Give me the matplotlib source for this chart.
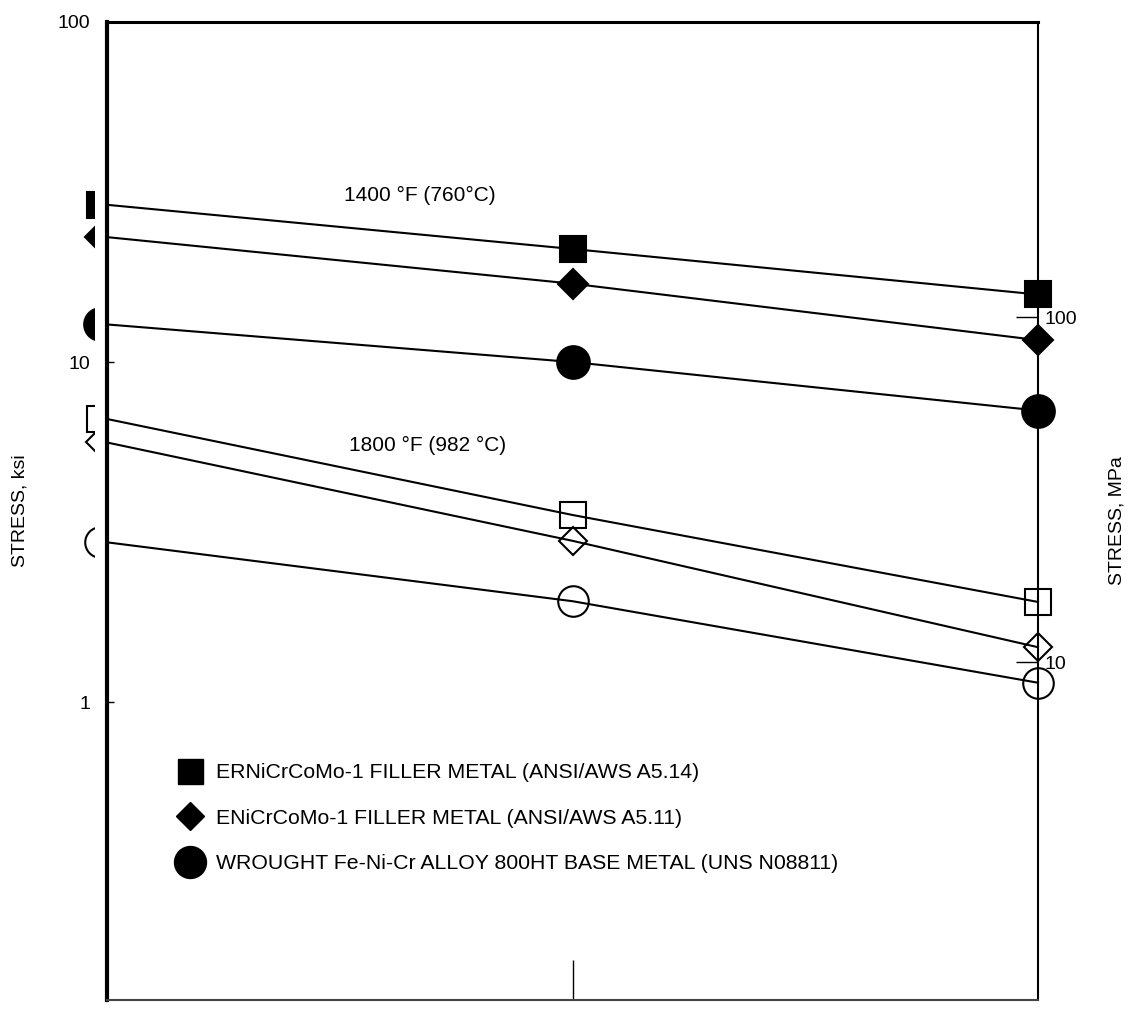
import matplotlib.pyplot as plt
from matplotlib.lines import Line2D
from matplotlib.patches import Rectangle
from matplotlib.ticker import NullLocator
from matplotlib.transforms import offset_copy

plt.rcParams['font.family'] = ['Liberation Sans', 'DejaVu Sans']

# rupture time, decades from the left edge (the original has no x labels)
log_time = [0, 1, 2]

# stress, ksi
er_1400 = [29.0, 21.5, 15.8]
e_1400 = [23.3, 17.0, 11.6]
base_1400 = [12.9, 10.0, 7.2]
er_1800 = [6.8, 3.55, 1.97]
e_1800 = [5.8, 2.98, 1.45]
base_1800 = [2.95, 1.98, 1.14]

legend_labels = [
    "ERNiCrCoMo-1 FILLER METAL (ANSI/AWS A5.14)",
    "ENiCrCoMo-1 FILLER METAL (ANSI/AWS A5.11)",
    "WROUGHT Fe-Ni-Cr ALLOY 800HT BASE METAL (UNS N08811)",
]

fig, ax = plt.subplots(figsize=(11.33, 10.09), dpi=100)
fig.subplots_adjust(left=107/1133, right=1038/1133, top=1-22/1009, bottom=1-1000/1009)

# marker, size, face colour
series = [
    (er_1400, 's', 19, 'black'),
    (e_1400, 'D', 15.5, 'black'),
    (base_1400, 'o', 23.5, 'black'),
    (er_1800, 's', 18.5, 'none'),
    (e_1800, 'D', 14.5, 'none'),
    (base_1800, 'o', 22, 'none'),
]

# the scanned original only shows the left half of the markers at the left edge
shift = offset_copy(ax.transData, fig=fig, x=-7, y=0, units='dots')
clip_rect = Rectangle((0, 0), 94/1133, 1, transform=fig.transFigure)

for vals, mk, ms, face in series:
    ax.plot(log_time, vals, color='black', lw=1.5, marker=mk, ms=ms,
            mfc=face, mec='black', mew=1.5, markevery=[1, 2], clip_on=False)
    left = ax.plot(log_time[:1], vals[:1], ls='none', marker=mk, ms=ms,
                   mfc=face, mec='black', mew=1.5, transform=shift)[0]
    left.set_clip_path(clip_rect)

ax.text(0.51, 30.8, "1400 °F (760°C)", fontsize=15, ha='left', va='center')
ax.text(0.52, 5.7, "1800 °F (982 °C)", fontsize=15, ha='left', va='center')

ax.set_yscale('log')
ax.set_ylim(0.133, 100)
ax.set_yticks([1, 10, 100])
ax.set_yticklabels(['1', '10', '100'])
ax.yaxis.set_minor_locator(NullLocator())
ax.tick_params(axis='y', direction='in', length=5, width=1, pad=12, labelsize=14)

ax.set_xlim(0, 2)
ax.set_xticks([1])
ax.set_xticklabels([])
ax.tick_params(axis='x', direction='in', length=29, width=1)

ax.spines['left'].set_linewidth(3)
ax.spines['top'].set_linewidth(2.2)
ax.spines['right'].set_linewidth(1.5)
ax.spines['bottom'].set_linewidth(1.5)
ax.spines['bottom'].set_color('#444444')

ax.set_ylabel("STRESS, ksi", fontsize=14)
ax.yaxis.set_label_coords(-0.084, 0.5)

# MPa scale on the right
ax2 = ax.twinx()
ax2.set_yscale('log')
ax2.set_ylim(1.05, 716)
ax2.set_yticks([10, 100])
ax2.set_yticklabels(['10', '100'])
ax2.yaxis.set_minor_locator(NullLocator())
ax2.tick_params(axis='y', direction='in', length=16, width=1, pad=5, labelsize=14)
for s in ax2.spines.values():
    s.set_visible(False)
ax2.set_ylabel("STRESS, MPa", fontsize=14)
ax2.yaxis.set_label_coords(1.076, 0.49)

handles = [
    Line2D([], [], ls='none', marker='s', ms=18, color='black'),
    Line2D([], [], ls='none', marker='D', ms=14, color='black'),
    Line2D([], [], ls='none', marker='o', ms=23, color='black'),
]
ax.legend(handles, legend_labels, loc='upper left', bbox_to_anchor=(0.078, 0.242),
          frameon=False, fontsize=15.3, handlelength=1.0, handletextpad=0.7,
          labelspacing=1.25, borderpad=0, borderaxespad=0, numpoints=1)

fig.savefig("out.png", dpi=100)
